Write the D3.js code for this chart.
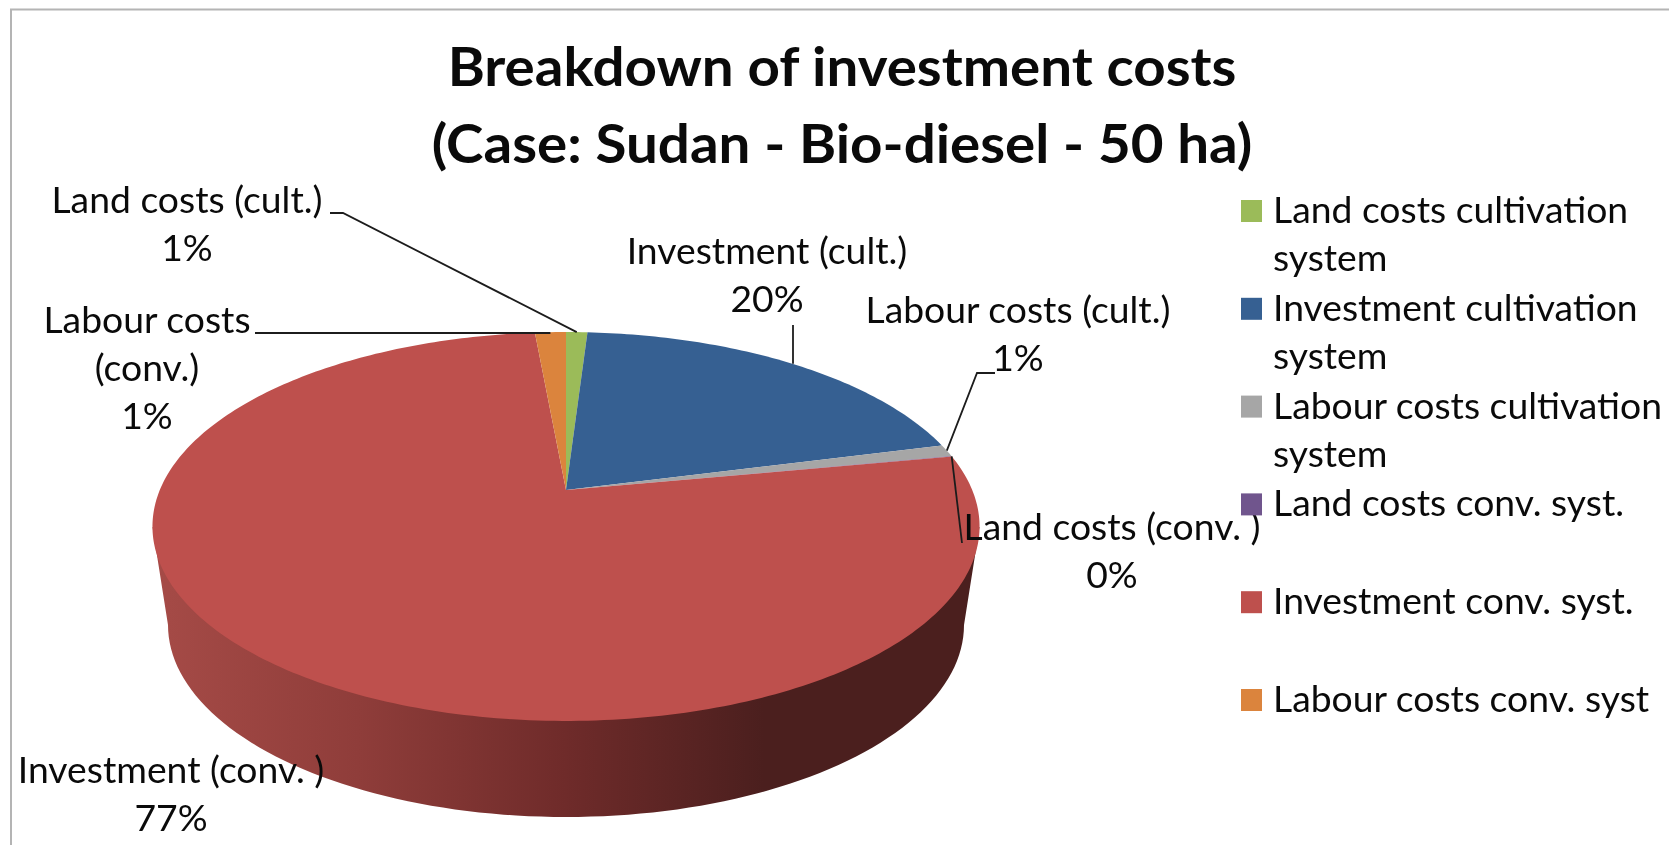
<!DOCTYPE html>
<html>
<head>
<meta charset="utf-8">
<script src="https://d3js.org/d3.v7.min.js"></script>
<style>
    html, body { margin: 0; padding: 0; background: #ffffff; overflow: hidden; }
    svg { filter: blur(0.6px); }
    text { font-family: Lato, "Noto Sans", sans-serif; fill: #0a0a0a; }
    .title { font-size: 54px; font-weight: 700; text-anchor: middle; }
    .label { font-size: 36px; text-anchor: middle; }
    .legend { font-size: 36px; }
    .leader { fill: none; stroke: #1c1c1c; stroke-width: 1.8px; }
</style>
</head>
<body>
<div id="container"></div>
<script>
    // chart values
    const categories = ["Land costs (cult.)", "Investment (cult.)", "Labour costs (cult.)", "Land costs (conv. )", "Investment (conv. )", "Labour costs (conv.)"];
    const values = [1.0, 20.0, 1.0, 0.05, 76.5, 1.45];
    const legendLabels = [
        ["Land costs cultivation", "system"],
        ["Investment cultivation", "system"],
        ["Labour costs cultivation", "system"],
        ["Land costs conv. syst."],
        ["Investment conv. syst."],
        ["Labour costs conv. syst"]
    ];
    const colors = ["#9bbb59", "#366092", "#a6a6a6", "#70558d", "#be504d", "#db843d"];
    const titleLines = ["Breakdown of investment costs", "(Case: Sudan - Bio-diesel - 50 ha)"];

    const width = 1669, height = 845;
    // Calibri is a bit wider here than Lato at the same height
    const titleStretch = 1.047, textStretch = 1.036;

    const svg = d3.select("#container").append("svg")
        .attr("width", width)
        .attr("height", height)
        .style("display", "block");

    // frame of the chart area, only top and left are in the picture
    svg.append("path")
        .attr("d", "M11,845V9.5H1669")
        .attr("fill", "none")
        .attr("stroke", "#b4b4b4")
        .attr("stroke-width", 2);

    // title
    svg.selectAll(".title").data(titleLines).enter().append("text")
        .attr("class", "title")
        .attr("transform", (d, i) => "translate(842," + (86 + i * 77) + ") scale(" + titleStretch + ",1)")
        .text(d => d);

    // perspective of the 3d pie: a unit circle is projected to the screen,
    // so the apex is above the centre of the ellipse
    const apex = {x: 566, y: 490};
    const persp = 0.1877, scaleX = 406.2, scaleY = 187.6;
    function project(angle) {
        const w = 1 + persp * Math.cos(angle);
        return [apex.x + scaleX * Math.sin(angle) / w, apex.y - scaleY * Math.cos(angle) / w];
    }

    const arcs = d3.pie().sort(null).value(d => d)(values);
    const line = d3.line();

    function wedgePath(d) {
        const steps = Math.max(2, Math.ceil((d.endAngle - d.startAngle) * 60));
        const pts = d3.range(steps + 1).map(i => project(d.startAngle + (d.endAngle - d.startAngle) * i / steps));
        return line([[apex.x, apex.y], ...pts]) + "Z";
    }

    // side wall, horizontal shading
    const grad = svg.append("defs").append("linearGradient")
        .attr("id", "side")
        .attr("gradientUnits", "userSpaceOnUse")
        .attr("x1", 152).attr("x2", 979).attr("y1", 0).attr("y2", 0);
    grad.selectAll("stop")
        .data([[0, "#a64b47"], [0.25, "#8f3d3a"], [0.5, "#6f2b2a"], [0.74, "#4b1f1e"], [1, "#4b1f1e"]])
        .enter().append("stop")
        .attr("offset", d => d[0])
        .attr("stop-color", d => d[1]);

    const topCy = 527, topRx = 413.5;
    const botCy = 625, botRx = 398, botRy = 192;
    const lowerArc = d3.range(0, 101).map(i => {
        const t = Math.PI * i / 100;
        return [apex.x - botRx * Math.cos(t), botCy + botRy * Math.sin(t)];
    });
    svg.append("path")
        .attr("d", line([[apex.x - topRx, topCy], ...lowerArc, [apex.x + topRx, topCy]]) + "Z")
        .attr("fill", "url(#side)");

    // top face
    svg.selectAll(".slice").data(arcs).enter().append("path")
        .attr("class", "slice")
        .attr("d", wedgePath)
        .attr("fill", (d, i) => colors[i]);

    // data labels, each line centred on the label position
    const labelLines = [
        [categories[0]],
        [categories[1]],
        [categories[2]],
        [categories[3]],
        [categories[4]],
        ["Labour costs", "(conv.)"]
    ];
    const labelPos = [[187, 213], [767, 264], [1018, 323], [1112, 540], [171, 783], [147, 333]];
    const labelGap = 48;

    labelLines.forEach((lines, i) => {
        const rows = lines.concat(Math.round(values[i]) + "%");
        svg.selectAll(".l" + i).data(rows).enter().append("text")
            .attr("class", "label l" + i)
            .attr("transform", (d, j) => "translate(" + labelPos[i][0] + "," + (labelPos[i][1] + j * labelGap) + ") scale(" + textStretch + ",1)")
            .text(d => d);
    });

    // leader lines from the label to the rim of the slice
    const mid = i => project((arcs[i].startAngle + arcs[i].endAngle) / 2);
    const leaders = [
        [[330, 213], [343, 213], mid(0)],
        [[793, 325], [793, mid(1)[1]]],
        [[995, 373], [977, 373], mid(2)],
        [mid(3), [962, 543]],
        [[255, 333], [mid(5)[0], 333]]
    ];
    svg.selectAll(".leader").data(leaders).enter().append("path")
        .attr("class", "leader")
        .attr("d", d => line(d));

    // legend
    const legendY = d3.scaleLinear().domain([0, 5]).range([211, 700]);
    const legend = svg.selectAll(".legend-item").data(legendLabels).enter().append("g")
        .attr("class", "legend-item")
        .attr("transform", (d, i) => "translate(1241," + legendY(i) + ")");
    legend.append("rect")
        .attr("x", 0).attr("y", -11)
        .attr("width", 21).attr("height", 22)
        .attr("fill", (d, i) => colors[i]);
    legend.each(function (rows) {
        d3.select(this).selectAll("text").data(rows).enter().append("text")
            .attr("class", "legend")
            .attr("transform", (d, j) => "translate(32," + (12 + j * 48) + ") scale(" + textStretch + ",1)")
            .text(d => d);
    });
</script>
</body>
</html>
